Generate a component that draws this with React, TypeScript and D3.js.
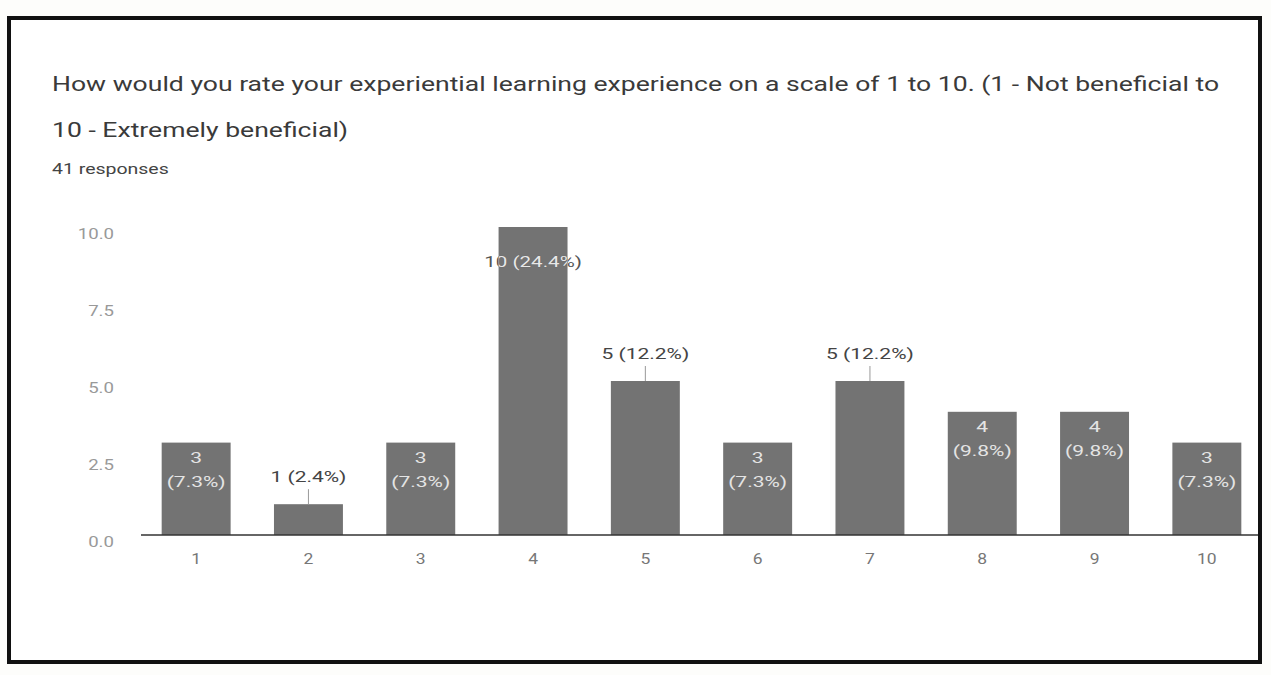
import React, { useEffect, useRef } from "react";
import * as d3 from "d3";

const categories = ["1", "2", "3", "4", "5", "6", "7", "8", "9", "10"];
const counts = [3, 1, 3, 10, 5, 3, 5, 4, 4, 3];
const percents = ["7.3%", "2.4%", "7.3%", "24.4%", "12.2%", "7.3%", "12.2%", "9.8%", "9.8%", "7.3%"];
const yTicks = [0, 2.5, 5, 7.5, 10];
const outsideLabels = ["2", "5", "7"];
const singleLineLabels = ["4"];
const titleLines = [
  "How would you rate your experiential learning experience on a scale of 1 to 10. (1 - Not beneficial to",
  "10 - Extremely beneficial)",
];
const subtitle = "41 responses";

const W = 1271;
const H = 675;
const FONT = "Roboto, Arial, sans-serif";

type Sel = d3.Selection<SVGGElement | SVGSVGElement, unknown, null, undefined>;

function addText(
  g: Sel,
  x: number,
  y: number,
  text: string,
  size: number,
  fill: string,
  sx: number,
  anchor: string = "start"
) {
  return g
    .append("text")
    .attr("transform", `translate(${x},${y}) scale(${sx},1)`)
    .attr("font-family", FONT)
    .attr("font-size", size)
    .attr("fill", fill)
    .attr("text-anchor", anchor)
    .text(text);
}

export default function App() {
  const ref = useRef<SVGSVGElement>(null);
  useEffect(() => {
    const svg = d3.select(ref.current) as unknown as Sel;
    svg.selectAll("*").remove();

    svg.append("rect").attr("width", W).attr("height", H).attr("fill", "#fdfdfb");
    svg
      .append("rect")
      .attr("x", 9)
      .attr("y", 18)
      .attr("width", 1251)
      .attr("height", 644)
      .attr("fill", "#ffffff")
      .attr("stroke", "#111")
      .attr("stroke-width", 4);

    addText(svg, 52, 91, titleLines[0], 21, "#3a3a3a", 1.265);
    addText(svg, 52, 137, titleLines[1], 21, "#3a3a3a", 1.265);
    addText(svg, 52, 174, subtitle, 15, "#444", 1.3);

    const x = d3
      .scaleBand()
      .domain(categories)
      .range([140, 1263])
      .paddingInner(0.386)
      .paddingOuter(0.193);
    const y = d3.scaleLinear().domain([0, 10]).range([535, 227]);

    // y-axis labels
    const yAxis = svg.append("g") as unknown as Sel;
    yTicks.forEach((d) => {
      addText(yAxis, 114, y(d) + 12, d3.format(".1f")(d), 14, "#999", 1.33, "end");
    });

    // bars
    const data = categories.map((c, i) => ({ c, v: counts[i], p: percents[i] }));
    svg
      .append("g")
      .selectAll("rect")
      .data(data)
      .join("rect")
      .attr("x", (d) => x(d.c)!)
      .attr("y", (d) => y(d.v))
      .attr("width", x.bandwidth())
      .attr("height", (d) => y(0) - y(d.v))
      .attr("fill", "#737373");

    // baseline
    svg
      .append("line")
      .attr("x1", 141)
      .attr("x2", 1258)
      .attr("y1", y(0))
      .attr("y2", y(0))
      .attr("stroke", "#333")
      .attr("stroke-width", 1.5);

    // x labels
    const xg = svg.append("g") as unknown as Sel;
    categories.forEach((c) => {
      addText(xg, x(c)! + x.bandwidth() / 2, y(0) + 29, c, 14, "#777", 1.25, "middle");
    });

    // data labels
    const defs = svg.append("defs");
    const lg = svg.append("g") as unknown as Sel;
    data.forEach((d, i) => {
      const cx = x(d.c)! + x.bandwidth() / 2;
      const top = y(d.v);
      if (outsideLabels.includes(d.c)) {
        lg.append("line")
          .attr("x1", cx)
          .attr("x2", cx)
          .attr("y1", top)
          .attr("y2", top - 15)
          .attr("stroke", "#999")
          .attr("stroke-width", 1);
        addText(lg, cx, top - 22, `${d.v} (${d.p})`, 14, "#444", 1.5, "middle");
      } else if (singleLineLabels.includes(d.c)) {
        const id = `clip-${i}`;
        defs
          .append("clipPath")
          .attr("id", id)
          .append("rect")
          .attr("x", x(d.c)!)
          .attr("y", top)
          .attr("width", x.bandwidth())
          .attr("height", y(0) - top);
        addText(lg, cx, top + 40, `${d.v} (${d.p})`, 14, "#555", 1.47, "middle");
        const inner = lg.append("g").attr("clip-path", `url(#${id})`) as unknown as Sel;
        addText(inner, cx, top + 40, `${d.v} (${d.p})`, 14, "#e8e8e8", 1.47, "middle")
          .attr("stroke", "#666")
          .attr("stroke-width", 0.5)
          .attr("paint-order", "stroke");
      } else {
        addText(lg, cx, top + 20, `${d.v}`, 14, "#e4e4e4", 1.5, "middle");
        addText(lg, cx, top + 44, `(${d.p})`, 14, "#e4e4e4", 1.5, "middle");
      }
    });
  }, []);

  return (
    <svg
      ref={ref}
      width={W}
      height={H}
      style={{ position: "absolute", left: 0, top: 0, display: "block" }}
    />
  );
}
